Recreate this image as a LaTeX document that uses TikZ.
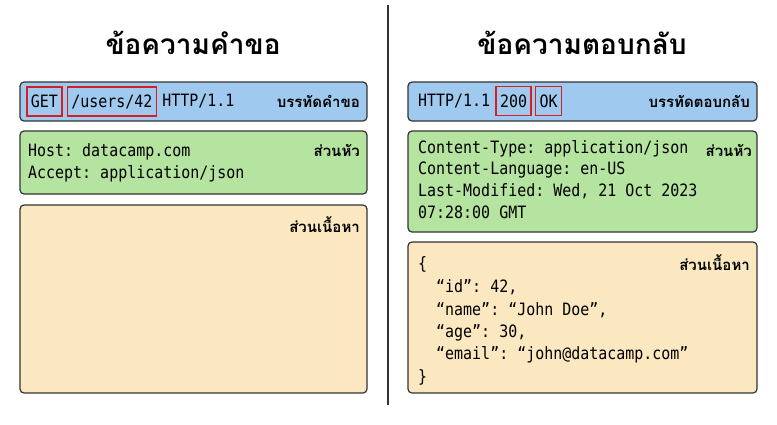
\documentclass[tikz,border=0pt]{standalone}
\usepackage{fontspec}
\usetikzlibrary{positioning}
\setmonofont[FakeStretch=0.88]{DejaVu Sans Mono}
\newfontfamily\thaifont[Script=Thai]{Loma}
\definecolor{lineblue}{HTML}{9FC9EE}
\definecolor{headgreen}{HTML}{B5E3A0}
\definecolor{bodybeige}{HTML}{FCE8C0}
\definecolor{framegray}{HTML}{333333}
\definecolor{markred}{HTML}{D42020}
\begin{document}
\begin{tikzpicture}[x=1pt,y=-1pt,
    part/.style={draw=framegray,line width=1.2pt,rounded corners=4pt},
    code/.style={anchor=west,inner sep=0pt,font=\ttfamily\fontsize{17}{20}\selectfont},
    tag/.style={anchor=east,inner sep=0pt,font=\thaifont\bfseries\fontsize{15}{18}\selectfont},
    title/.style={inner sep=0pt,font=\thaifont\bfseries\fontsize{28}{32}\selectfont},
    redbox/.style={code,draw=markred,line width=1.5pt,inner xsep=4pt,
        minimum height=29pt}]
    \useasboundingbox (0,0) rectangle (777,424);
    %% titles and divider
    \node[title] (reqtitle) at (193,43) {ข้อความคำขอ};
    \node[title] (restitle) at (582,43) {ข้อความตอบกลับ};
    \draw[line width=1.5pt,framegray] (388,5) -- (388,405);
    %% request side
    \draw[part,fill=lineblue] (20,82) rectangle (367,121);
    \draw[part,fill=headgreen] (20,131) rectangle (367,194);
    \draw[part,fill=bodybeige] (20,205) rectangle (367,393);
    \node[redbox] (method) at (26,101.5) {GET};
    \node[redbox,right=4pt of method] (path) {/users/42};
    \node[code,right=5pt of path] (version) {HTTP/1.1};
    \node[tag] (reqlinetag) at (360,101) {บรรทัดคำขอ};
    \node[code] (host) at (28,152) {Host: datacamp.com};
    \node[code] (accept) at (28,174) {Accept: application/json};
    \node[tag] (reqheadtag) at (360,150) {ส่วนหัว};
    \node[tag] (reqbodytag) at (360,225) {ส่วนเนื้อหา};
    %% response side
    \draw[part,fill=lineblue] (408,82) rectangle (757,121);
    \draw[part,fill=headgreen] (408,131) rectangle (757,232);
    \draw[part,fill=bodybeige] (408,242) rectangle (757,393);
    \node[code] (resversion) at (418,101) {HTTP/1.1};
    \node[redbox,right=5pt of resversion] (status) {200};
    \node[redbox,right=3pt of status] (reason) {OK};
    \node[tag] (reslinetag) at (750,101) {บรรทัดตอบกลับ};
    \foreach \txt [count=\i] in {Content-Type: application/json,
        Content-Language: en-US, {Last-Modified: Wed, 21 Oct 2023}, 07:28:00 GMT}{
        \node[code] (hdr\i) at (418,128+21*\i) {\txt};
    }
    \node[tag] (resheadtag) at (752,150) {ส่วนหัว};
    \foreach \txt [count=\i] in {\{, {\ \ “id”: 42,}, {\ \ “name”: “John Doe”,},
        {\ \ “age”: 30,}, {\ \ “email”: “john@datacamp.com”}, \}}{
        \node[code] (json\i) at (418,242+22.6*\i) {\txt};
    }
    \node[tag] (resbodytag) at (750,263) {ส่วนเนื้อหา};
\end{tikzpicture}
\end{document}
